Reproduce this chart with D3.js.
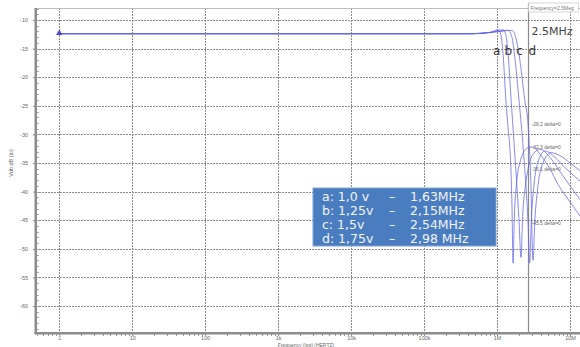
<!DOCTYPE html>
<html>
<head>
<meta charset="utf-8">
<script src="https://cdn.jsdelivr.net/npm/d3@7"></script>
<style>
  body { margin: 0; background: #fff; }
  svg { display: block; font-family: "Liberation Sans", Arial, sans-serif; }
</style>
</head>
<body>
<svg id="chart" width="580" height="347"></svg>
<script>
// frequency (Hz) / gain (dB)
const seriesA = [[1,-12.4],[4.3e5,-12.4],[8.0e5,-12.2],[1.03e6,-11.7],[1.13e6,-12.6],[1.21e6,-16],[1.32e6,-24],[1.42e6,-29],[1.51e6,-33],[1.60e6,-42],[1.66e6,-52.5],[1.72e6,-45],[1.85e6,-38.5],[2.1e6,-34.5],[2.4e6,-32.8],[2.66e6,-32.3],[3.1e6,-32.2],[3.9e6,-33.5],[5.3e6,-36],[6.9e6,-38.8],[1.0e7,-41.8],[1.6e7,-45.5]];
const seriesB = [[1,-12.4],[4.3e5,-12.4],[8.5e5,-12.1],[1.21e6,-11.7],[1.33e6,-12.8],[1.42e6,-16],[1.56e6,-24],[1.7e6,-31],[1.85e6,-38],[2.0e6,-45],[2.13e6,-51.5],[2.25e6,-44],[2.45e6,-39],[2.66e6,-36.1],[3.1e6,-33.5],[3.9e6,-32.6],[5.3e6,-34],[7.3e6,-36.5],[1.0e7,-39],[1.6e7,-42.5]];
const seriesC = [[1,-12.4],[4.3e5,-12.4],[9.0e5,-12.1],[1.42e6,-11.8],[1.6e6,-13],[1.75e6,-16.5],[2.0e6,-24],[2.3e6,-33],[2.66e6,-45.5],[2.8e6,-52.5],[2.95e6,-45],[3.2e6,-39],[3.6e6,-35],[4.55e6,-32.9],[6.2e6,-34],[8.5e6,-35.8],[1.2e7,-37.5],[1.6e7,-39]];
const seriesD = [[1,-12.4],[4.3e5,-12.4],[9.5e5,-12.1],[1.6e6,-11.8],[1.8e6,-13],[2.0e6,-16],[2.4e6,-24],[2.66e6,-28.2],[2.9e6,-38],[3.11e6,-52],[3.3e6,-45],[3.6e6,-39.5],[4.1e6,-35.5],[5.5e6,-33.2],[7.5e6,-33.8],[1.0e7,-35],[1.6e7,-37]];
const allSeries = [seriesA, seriesB, seriesC, seriesD];

const xTicks      = [1, 10, 100, 1e3, 1e4, 1e5, 1e6, 1e7];
const xTickLabels = ["1", "10", "100", "1k", "10k", "100k", "1M", "10M"];
const yTicks      = [-10, -15, -20, -25, -30, -35, -40, -45, -50, -55, -60];

const curveLetters = ["a", "b", "c", "d"];
const letterFreqs  = [0.88e6, 1.27e6, 1.83e6, 2.7e6];

const legendLines = [
  ["a: 1,0 v", "1,63MHz"],
  ["b: 1,25v", "2,15MHz"],
  ["c: 1,5v",  "2,54MHz"],
  ["d: 1,75v", "2,98 MHz"]
];

const cursorFreq   = 2.65e6;
const cursorLabel  = "2.5MHz";
const markerValues = [-28.2, -32.3, -36.1, -45.5];

const svg = d3.select("#chart");
const plotL = 36, plotT = 8, plotR = 580, plotB = 333;

const x = d3.scaleLog().domain([1, 1e7]).range([59.3, 570]);
const y = d3.scaleLinear().domain([-10, -60]).range([20, 306]);

svg.append("defs").append("clipPath").attr("id", "plotClip")
  .append("rect").attr("x", plotL).attr("y", plotT).attr("width", plotR - plotL).attr("height", plotB - plotT);

// grid
const grid = svg.append("g").attr("stroke", "#8a8a8a").attr("stroke-width", 1).attr("stroke-dasharray", "2,1");
grid.selectAll(".h").data(yTicks).join("line").attr("class", "h")
  .attr("x1", plotL).attr("x2", plotR)
  .attr("y1", d => Math.round(y(d)) + 0.5).attr("y2", d => Math.round(y(d)) + 0.5);
grid.selectAll(".v").data(xTicks).join("line").attr("class", "v")
  .attr("x1", d => Math.round(x(d)) + 0.5).attr("x2", d => Math.round(x(d)) + 0.5)
  .attr("y1", plotT).attr("y2", plotB);

// top frame
svg.append("line").attr("x1", plotL).attr("x2", plotR).attr("y1", plotT + 0.5).attr("y2", plotT + 0.5)
  .attr("stroke", "#bbb");

// minor ticks on left axis
const yMinor = d3.range(-8, -65, -1);
svg.append("g").selectAll("line").data(yMinor).join("line")
  .attr("x1", plotL).attr("x2", plotL + 3)
  .attr("y1", d => Math.round(y(d)) + 0.5).attr("y2", d => Math.round(y(d)) + 0.5)
  .attr("stroke", "#aaa");

// minor ticks on bottom axis
const xMinor = [];
[0.1, 1, 10, 100, 1e3, 1e4, 1e5, 1e6, 1e7].forEach(dec => { for (let k = 2; k < 10; k++) xMinor.push(dec * k); });
svg.append("g").selectAll("line").data(xMinor.filter(d => x(d) > plotL && x(d) < plotR)).join("line")
  .attr("x1", d => Math.round(x(d)) + 0.5).attr("x2", d => Math.round(x(d)) + 0.5)
  .attr("y1", plotB).attr("y2", plotB + 3)
  .attr("stroke", "#999");

// axes
const yAxis = svg.append("g").attr("transform", `translate(${plotL},0)`)
  .call(d3.axisLeft(y).tickValues(yTicks).tickSize(3).tickFormat(d => "-" + Math.abs(d)));
const xAxis = svg.append("g").attr("transform", `translate(0,${plotB})`)
  .call(d3.axisBottom(x).tickValues(xTicks).tickSize(3).tickFormat((d, i) => xTickLabels[i]));
[yAxis, xAxis].forEach(ax => {
  ax.select(".domain").remove();
  ax.selectAll("line").attr("stroke", "#888");
  ax.selectAll("text").attr("fill", "#666").attr("font-size", 5.5);
});
yAxis.selectAll("text").attr("dx", -2);
xAxis.selectAll("text").attr("y", 4).attr("dy", "0.6em");

svg.append("rect").attr("x", plotL - 1.5).attr("y", plotT).attr("width", 2.5).attr("height", plotB - plotT + 1)
  .attr("fill", "#8c8c8c");
svg.append("rect").attr("x", plotL - 1.5).attr("y", plotB - 1).attr("width", plotR - plotL + 2).attr("height", 2.5)
  .attr("fill", "#8c8c8c");

svg.append("text").attr("x", 306).attr("y", 346.5).attr("text-anchor", "middle")
  .attr("font-size", 5).attr("fill", "#666").text("Frequency (log) (HERTZ)");
svg.append("text").attr("transform", "translate(13,163) rotate(-90)").attr("text-anchor", "middle")
  .attr("font-size", 5.5).attr("fill", "#666").text("Vdb dB (lo)");

// cursor
const cx = Math.round(x(cursorFreq)) + 0.5;
svg.append("line").attr("x1", cx).attr("x2", cx).attr("y1", 3).attr("y2", plotB)
  .attr("stroke", "#8a8a8a").attr("stroke-width", 1.2);
svg.append("rect").attr("x", cx).attr("y", 3).attr("width", 50).attr("height", 9)
  .attr("fill", "#fff").attr("stroke", "#bbb").attr("stroke-width", 0.6);
svg.append("text").attr("x", cx + 2).attr("y", 10).attr("font-size", 5).attr("fill", "#777")
  .text("Frequency=2.5Meg");

// curves
const line = d3.line().x(d => x(d[0])).y(d => y(d[1])).curve(d3.curveMonotoneX);
svg.append("g").attr("clip-path", "url(#plotClip)")
  .selectAll("path").data(allSeries).join("path")
  .attr("d", line)
  .attr("fill", "none")
  .attr("stroke", "#6262e6")
  .attr("stroke-opacity", 0.75)
  .attr("stroke-width", 1);

svg.append("path")
  .attr("d", d3.symbol(d3.symbolTriangle).size(18)())
  .attr("transform", `translate(${x(seriesA[0][0])},${y(seriesA[0][1]) - 0.5})`)
  .attr("fill", "#4a4ad8");

// cursor value labels
svg.append("g").selectAll("text").data(markerValues).join("text")
  .attr("x", cx + 3).attr("y", d => y(d) + 1.5)
  .attr("font-size", 5).attr("fill", "#666")
  .text(d => d.toFixed(1) + " delta=0");

svg.append("text").attr("x", cx + 3).attr("y", 35)
  .attr("font-family", "DejaVu Sans").attr("font-size", 11).attr("fill", "#444")
  .text(cursorLabel);

svg.append("g").selectAll("text").data(curveLetters).join("text")
  .attr("x", (d, i) => x(letterFreqs[i])).attr("y", 55)
  .attr("font-family", "DejaVu Sans").attr("font-size", 12).attr("fill", "#333")
  .text(d => d);

// legend box
const lg = svg.append("g").attr("font-family", "DejaVu Sans").attr("font-size", 12.5).attr("fill", "#f2f4fa");
lg.append("rect").attr("x", 313).attr("y", 188).attr("width", 183).attr("height", 58)
  .attr("fill", "#4a7dbf").attr("stroke", "#7fa3d3").attr("stroke-width", 1);
legendLines.forEach((row, i) => {
  const ty = 201 + i * 14;
  lg.append("text").attr("x", 322).attr("y", ty).text(row[0]);
  lg.append("text").attr("x", 389).attr("y", ty).text("–");
  lg.append("text").attr("x", 410).attr("y", ty).text(row[1]);
});
</script>
</body>
</html>
